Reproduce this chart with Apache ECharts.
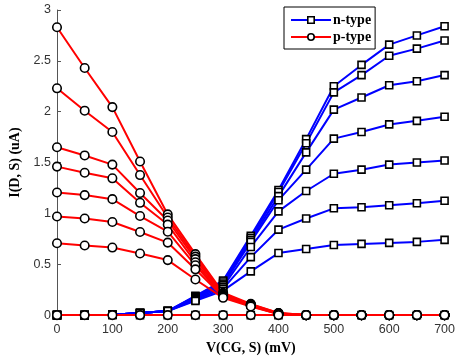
<!DOCTYPE html>
<html><head><meta charset="utf-8">
<script src="https://cdn.jsdelivr.net/npm/echarts@6/dist/echarts.min.js"></script>
<style>html,body{margin:0;padding:0;background:#fff}#c{width:458px;height:360px}</style>
</head><body><div id="c"></div>
<script>
const xValues = [0,50,100,150,200,250,300,350,400,450,500,550,600,650,700];
const n1 = [0,0,0.003,0.02,0.04,0.19,0.34,0.78,1.23,1.73,2.25,2.46,2.66,2.75,2.84];
const n2 = [0,0,0.003,0.02,0.04,0.185,0.33,0.76,1.21,1.69,2.19,2.36,2.55,2.62,2.70];
const n3 = [0,0,0.003,0.02,0.04,0.18,0.31,0.74,1.17,1.60,2.02,2.14,2.26,2.30,2.36];
const n4 = [0,0,0.003,0.02,0.04,0.17,0.30,0.72,1.13,1.43,1.735,1.80,1.875,1.91,1.95];
const n5 = [0,0,0.003,0.02,0.04,0.16,0.28,0.67,1.02,1.22,1.39,1.43,1.48,1.50,1.52];
const n6 = [0,0,0.003,0.02,0.04,0.15,0.26,0.57,0.84,0.95,1.05,1.06,1.08,1.10,1.125];
const n7 = [0,0,0.003,0.02,0.04,0.14,0.24,0.43,0.61,0.65,0.69,0.70,0.71,0.72,0.74];
const n8 = [0,0,0,0,0,0,0,0,0,0,0,0,0,0,0];
const p1 = [2.83,2.43,2.045,1.51,0.99,0.60,0.22,0.11,0.02,0,0,0,0,0,0];
const p2 = [2.23,2.01,1.80,1.377,0.96,0.575,0.21,0.105,0.02,0,0,0,0,0,0];
const p3 = [1.65,1.57,1.48,1.20,0.93,0.55,0.20,0.10,0.015,0,0,0,0,0,0];
const p4 = [1.46,1.40,1.345,1.104,0.89,0.52,0.19,0.10,0.015,0,0,0,0,0,0];
const p5 = [1.205,1.18,1.14,0.974,0.82,0.49,0.185,0.095,0.01,0,0,0,0,0,0];
const p6 = [0.97,0.95,0.915,0.817,0.713,0.45,0.18,0.09,0.01,0,0,0,0,0,0];
const p7 = [0.707,0.684,0.664,0.606,0.541,0.35,0.17,0.085,0.01,0,0,0,0,0,0];
const p8 = [0,0,0,0,0,0,0,0,0,0,0,0,0,0,0];
const nSeries = [n1,n2,n3,n4,n5,n6,n7,n8];
const pSeries = [p1,p2,p3,p4,p5,p6,p7,p8];
const xTicks = {min:0, max:700, interval:100};
const yTicks = {min:0, max:3, interval:0.5};

function mk(name, vals, color, symbol, size){
  return {
    name: name, type:'line', data: xValues.map((x,i)=>[x, vals[i]]),
    symbol: symbol, symbolSize: size, showAllSymbol:true,
    lineStyle:{color:color, width:2},
    itemStyle:{color:'#fff', borderColor:'#000', borderWidth:1.6},
    emphasis:{disabled:true}, animation:false
  };
}
const series = [];
nSeries.forEach(v=>series.push(mk('n-type', v, '#0000ff', 'rect', 7)));
pSeries.forEach(v=>series.push(mk('p-type', v, '#ff0000', 'circle', 8.5)));

const chart = echarts.init(document.getElementById('c'), null, {renderer:'canvas'});
chart.setOption({
  animation:false,
  grid:{left:57, right:11, top:10, bottom:42},
  legend:{
    data:['n-type','p-type'], orient:'vertical', left:284, top:7,
    padding:[6,4,5,6], itemGap:3, itemWidth:40, itemHeight:8,
    borderColor:'#000', borderWidth:1, backgroundColor:'#fff',
    itemStyle:{borderWidth:1.6},
    textStyle:{fontFamily:'Liberation Serif', fontWeight:'bold', fontSize:14, color:'#000', padding:[0,0,0,-3]}
  },
  xAxis:{
    type:'value', min:xTicks.min, max:xTicks.max, interval:xTicks.interval,
    name:'V(CG, S) (mV)', nameLocation:'middle', nameGap:22,
    nameTextStyle:{fontFamily:'Liberation Serif', fontWeight:'bold', fontSize:14, color:'#000'},
    axisLine:{lineStyle:{color:'#555', width:1}},
    axisTick:{inside:true, length:4, lineStyle:{color:'#555'}},
    axisLabel:{fontFamily:'Liberation Sans', fontSize:12.5, color:'#333', margin:8},
    splitLine:{show:false}
  },
  yAxis:{
    type:'value', min:yTicks.min, max:yTicks.max, interval:yTicks.interval,
    name:'I(D, S) (uA)', nameLocation:'middle', nameGap:27,
    nameTextStyle:{fontFamily:'Liberation Serif', fontWeight:'bold', fontSize:14, color:'#000'},
    axisLine:{show:true, lineStyle:{color:'#555', width:1}},
    axisTick:{show:true, inside:true, length:4, lineStyle:{color:'#555'}},
    axisLabel:{fontFamily:'Liberation Sans', fontSize:12.5, color:'#333', margin:6},
    splitLine:{show:false}
  },
  series: series
});
</script></body></html>
